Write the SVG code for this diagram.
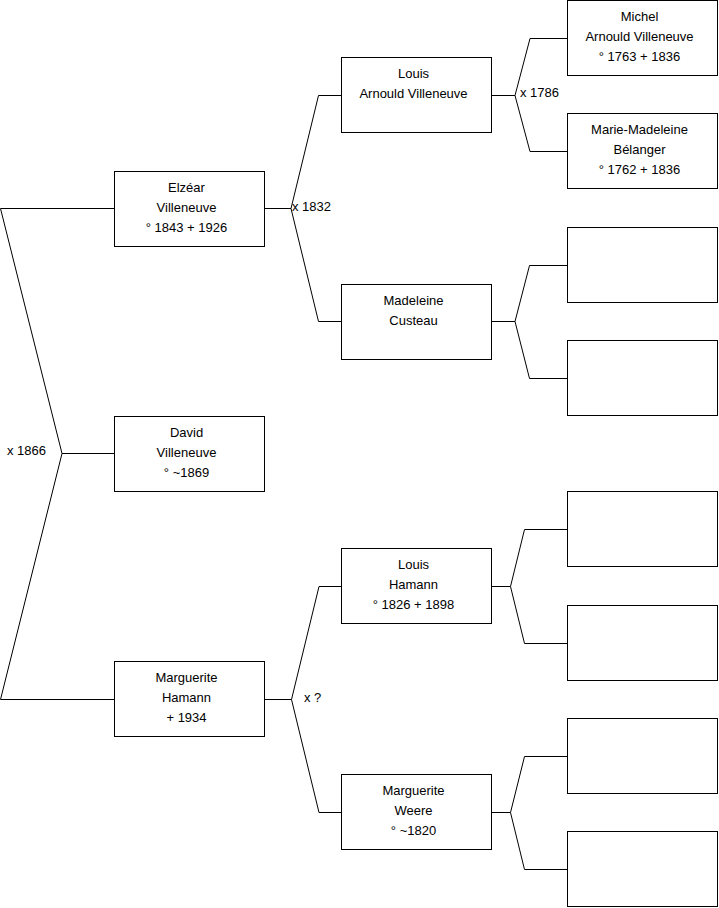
<svg xmlns="http://www.w3.org/2000/svg" width="719" height="908" viewBox="0 0 719 908">
<style>
.box{fill:#fff;stroke:#000;stroke-width:1}
.c{fill:none;stroke:#000;stroke-width:1}
text{font-family:"Liberation Sans",Arial,sans-serif;font-size:13px;fill:#000}
.n{text-anchor:middle}
</style>
<rect width="719" height="908" fill="#fff"/>
<g id="connectors">
<path class="c" d="M114,208.5 H0.5 L62,453.5 L0.5,699.5 H114 M62,453.5 H114"/>
<path class="c" d="M264.5,208.5 H291 M341,95.5 H318.5 L291,208.5 L318.5,321.5 H341"/>
<path class="c" d="M491.5,95.5 H515 M567,38.5 H530 L515,95.5 L530,151.5 H567"/>
<path class="c" d="M491.5,321.5 H515 M567,265.5 H529.5 L515,321.5 L529.5,378.5 H567"/>
<path class="c" d="M264.5,699.5 H291.5 M341,586.5 H319 L291.5,699.5 L319,812.5 H341"/>
<path class="c" d="M491.5,586.5 H510.5 M567,529.5 H524.5 L510.5,586.5 L524.5,643.5 H567"/>
<path class="c" d="M491.5,812.5 H510.5 M567,756.5 H524.5 L510.5,812.5 L524.5,869.5 H567"/>
<text x="7" y="455">x 1866</text>
<text x="292" y="211">x 1832</text>
<text x="520" y="97">x 1786</text>
<text x="304" y="702">x ?</text>
</g>
<g id="elzear">
<rect class="box" x="114.5" y="171.5" width="150" height="75"/>
<text class="n" x="186.5" y="191.5">Elzéar</text>
<text class="n" x="186.5" y="211.5">Villeneuve</text>
<text class="n" x="186.5" y="231.5">° 1843 + 1926</text>
</g>
<g id="david">
<rect class="box" x="114.5" y="416.5" width="150" height="75"/>
<text class="n" x="186.5" y="436.5">David</text>
<text class="n" x="186.5" y="456.5">Villeneuve</text>
<text class="n" x="186.5" y="476.5">° ~1869</text>
</g>
<g id="marguerite-hamann">
<rect class="box" x="114.5" y="661.5" width="150" height="75"/>
<text class="n" x="186.5" y="681.5">Marguerite</text>
<text class="n" x="186.5" y="701.5">Hamann</text>
<text class="n" x="186.5" y="721.5">+ 1934</text>
</g>
<g id="louis-arnould">
<rect class="box" x="341.5" y="57.5" width="150" height="75"/>
<text class="n" x="413.5" y="77.5">Louis</text>
<text class="n" x="413.5" y="97.5">Arnould Villeneuve</text>
</g>
<g id="madeleine-custeau">
<rect class="box" x="341.5" y="284.5" width="150" height="75"/>
<text class="n" x="413.5" y="304.5">Madeleine</text>
<text class="n" x="413.5" y="324.5">Custeau</text>
</g>
<g id="louis-hamann">
<rect class="box" x="341.5" y="548.5" width="150" height="75"/>
<text class="n" x="413.5" y="568.5">Louis</text>
<text class="n" x="413.5" y="588.5">Hamann</text>
<text class="n" x="413.5" y="608.5">° 1826 + 1898</text>
</g>
<g id="marguerite-weere">
<rect class="box" x="341.5" y="774.5" width="150" height="75"/>
<text class="n" x="413.5" y="794.5">Marguerite</text>
<text class="n" x="413.5" y="814.5">Weere</text>
<text class="n" x="413.5" y="834.5">° ~1820</text>
</g>
<g id="michel">
<rect class="box" x="567.5" y="0.5" width="150" height="75"/>
<text class="n" x="639.5" y="20.5">Michel</text>
<text class="n" x="639.5" y="40.5">Arnould Villeneuve</text>
<text class="n" x="639.5" y="60.5">° 1763 + 1836</text>
</g>
<g id="marie-madeleine">
<rect class="box" x="567.5" y="113.5" width="150" height="75"/>
<text class="n" x="639.5" y="133.5">Marie-Madeleine</text>
<text class="n" x="639.5" y="153.5">Bélanger</text>
<text class="n" x="639.5" y="173.5">° 1762 + 1836</text>
</g>
<g id="empty1"><rect class="box" x="567.5" y="227.5" width="150" height="75"/></g>
<g id="empty2"><rect class="box" x="567.5" y="340.5" width="150" height="75"/></g>
<g id="empty3"><rect class="box" x="567.5" y="491.5" width="150" height="75"/></g>
<g id="empty4"><rect class="box" x="567.5" y="605.5" width="150" height="75"/></g>
<g id="empty5"><rect class="box" x="567.5" y="718.5" width="150" height="75"/></g>
<g id="empty6"><rect class="box" x="567.5" y="831.5" width="150" height="75"/></g>
</svg>
